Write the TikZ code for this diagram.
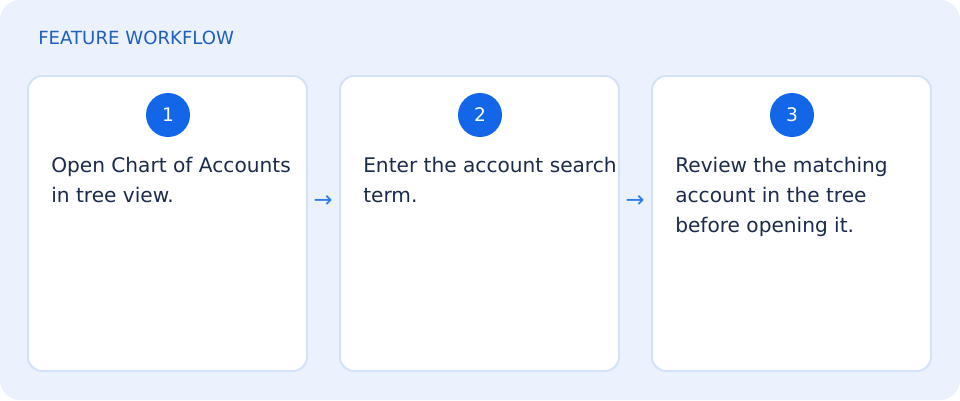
\documentclass[tikz,border=0pt]{standalone}
\usepackage{fontspec}
\setmainfont{DejaVu Sans}
\definecolor{bgblue}{HTML}{EBF2FE}
\definecolor{cardline}{HTML}{D3E2F7}
\definecolor{titleblue}{HTML}{1F5FBF}
\definecolor{badge}{HTML}{1366E8}
\definecolor{navy}{HTML}{1B2B4B}
\definecolor{arrowblue}{HTML}{2F7BEA}
\begin{document}
\begin{tikzpicture}[x=0.75pt,y=-0.75pt,
  card/.style={draw=cardline,line width=1.5pt,fill=white,rounded corners=10.5pt},
  badgenode/.style={circle,fill=badge,minimum size=33pt,inner sep=0pt,text=white,font=\fontsize{14}{16}\selectfont},
  steptext/.style={anchor=north west,align=left,text=navy,inner sep=0pt,font=\fontsize{15.1}{22.5}\selectfont},
  flowarrow/.style={text=arrowblue,font=\fontsize{17}{19}\selectfont,inner sep=0pt}]
\useasboundingbox (0,0) rectangle (960,400);
\fill[white] (0,0) rectangle (960,400);
\fill[bgblue,rounded corners=15pt] (0,0) rectangle (960,400);
\node[anchor=base west,inner sep=0pt,text=titleblue,font=\fontsize{13.6}{16}\selectfont] (title) at (38,44) {FEATURE WORKFLOW};
\foreach \i/\x in {1/28,2/340,3/652}{
  \draw[card] (\x,76) rectangle ++(279,295);
}
\node[badgenode] (b1) at (168,115) {1};
\node[badgenode] (b2) at (480,115) {2};
\node[badgenode] (b3) at (792,115) {3};
\node[steptext] (t1) at (51,157) {Open Chart of Accounts\\in tree view.};
\node[steptext] (t2) at (363,157) {Enter the account search\\term.};
\node[steptext] (t3) at (675,157) {Review the matching\\account in the tree\\before opening it.};
\node[flowarrow] (a1) at (323,202) {→};
\node[flowarrow] (a2) at (635,202) {→};
\end{tikzpicture}
\end{document}
